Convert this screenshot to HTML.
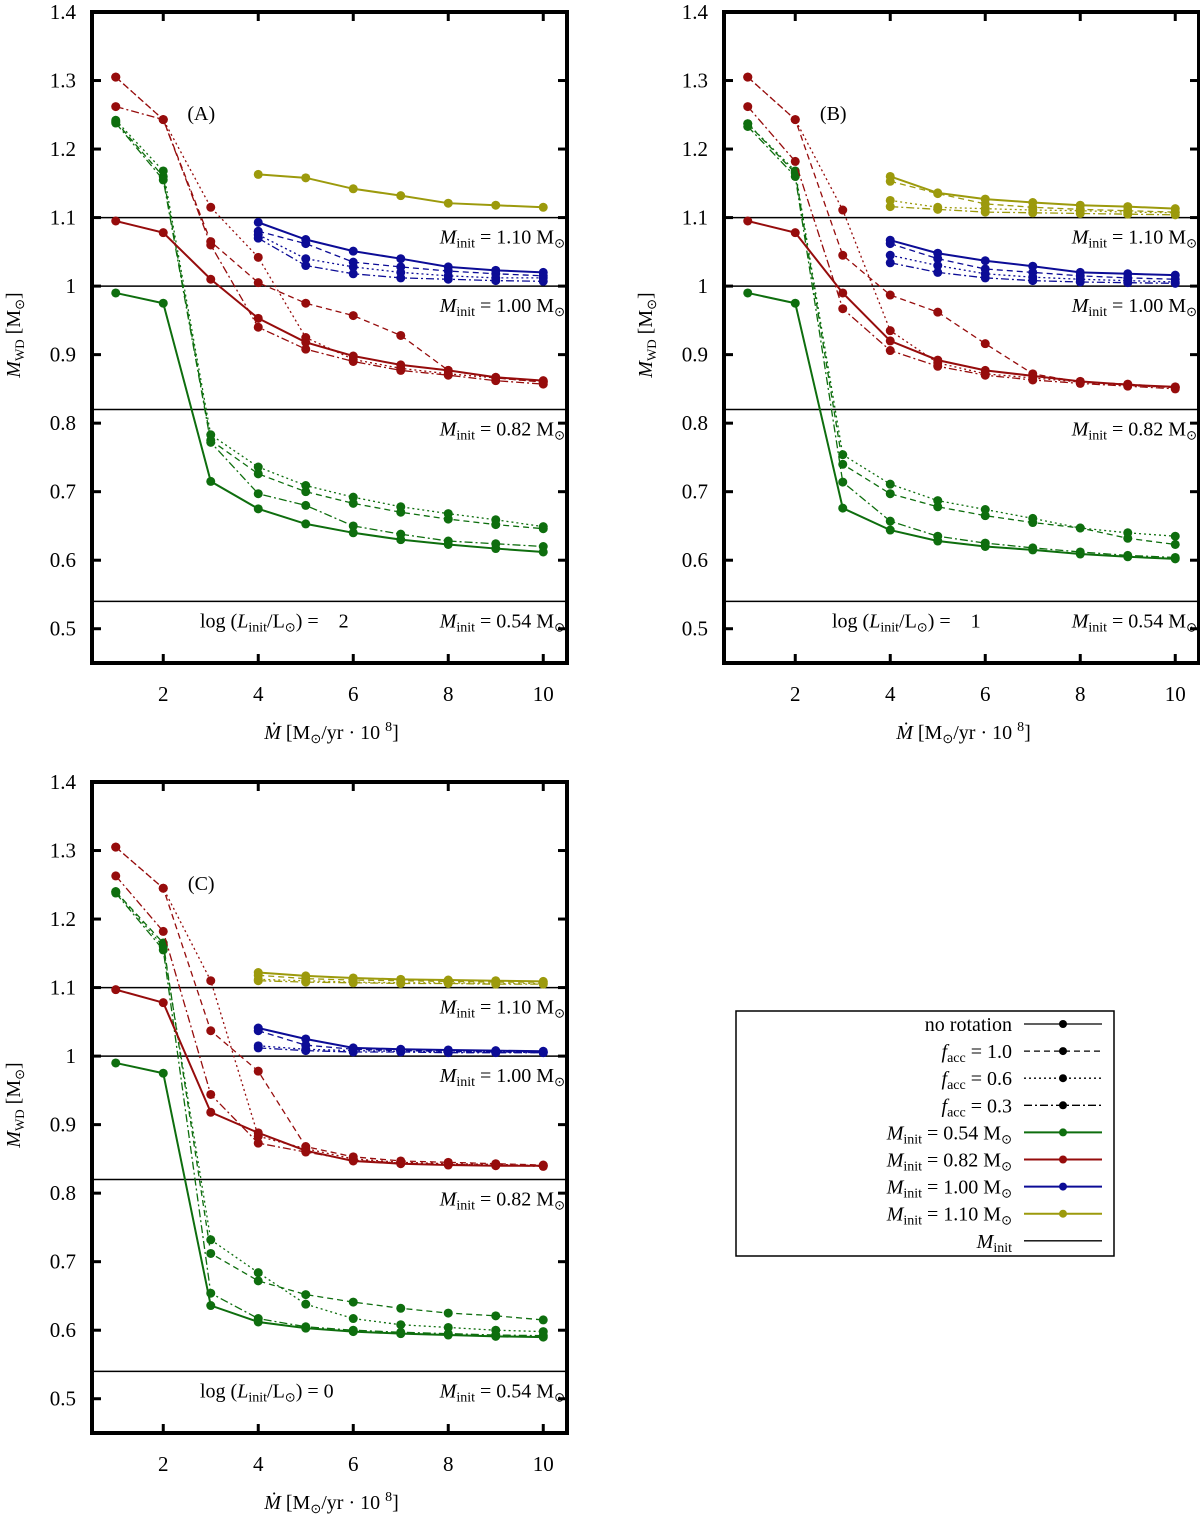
<!DOCTYPE html>
<html><head><meta charset="utf-8"><style>
body{margin:0;background:#fff;width:1200px;height:1514px;overflow:hidden}
svg{font-family:"Liberation Serif",serif;}
.pre{white-space:pre}
</style></head><body>
<svg id="chart" width="1200" height="1514" viewBox="0 0 1200 1514" xmlns="http://www.w3.org/2000/svg"></svg>
<script>
const xValues=[1,2,3,4,5,6,7,8,9,10];
const yTicks=[0.5,0.6,0.7,0.8,0.9,1,1.1,1.2,1.3,1.4];
const yTickLabels=["0.5","0.6","0.7","0.8","0.9","1","1.1","1.2","1.3","1.4"];
const xTicks=[2,4,6,8,10];
const refMasses=[1.10,1.00,0.82,0.54];
const refLabels=["1.10","1.00","0.82","0.54"];
const styles=["solid","dashed","dotted","dashdot"];
const massColors=["#0e6e0e","#960c0c","#0c0c96","#9c9a0c"];
// Panel A
const A_g=[[0.99,0.975,0.715,0.675,0.653,0.640,0.630,0.623,0.617,0.612],[1.24,1.16,0.775,0.726,0.700,0.683,0.670,0.660,0.652,0.646],[1.242,1.168,0.783,0.736,0.709,0.692,0.678,0.668,0.659,0.649],[1.238,1.155,0.772,0.697,0.680,0.650,0.638,0.628,0.624,0.620]];
const A_r=[[1.095,1.078,1.01,0.953,0.918,0.898,0.885,0.877,0.867,0.862],[1.305,1.243,1.065,1.005,0.975,0.957,0.928,0.877,0.866,0.86],[1.305,1.243,1.115,1.042,0.925,0.893,0.88,0.872,0.866,0.86],[1.262,1.243,1.06,0.94,0.908,0.89,0.877,0.87,0.862,0.857]];
const A_b=[[1.093,1.068,1.051,1.040,1.028,1.023,1.020],[1.08,1.062,1.035,1.028,1.022,1.018,1.015],[1.075,1.04,1.028,1.020,1.015,1.012,1.012],[1.07,1.03,1.018,1.012,1.010,1.008,1.007]];
const A_y=[[1.163,1.158,1.142,1.132,1.121,1.118,1.115]];
// Panel B
const B_g=[[0.99,0.975,0.676,0.644,0.628,0.620,0.615,0.609,0.605,0.602],[1.237,1.165,0.740,0.697,0.678,0.665,0.655,0.647,0.632,0.623],[1.237,1.168,0.754,0.711,0.687,0.674,0.661,0.647,0.640,0.635],[1.233,1.160,0.714,0.657,0.635,0.625,0.618,0.612,0.607,0.604]];
const B_r=[[1.095,1.078,0.99,0.92,0.892,0.877,0.869,0.861,0.856,0.853],[1.305,1.243,1.045,0.987,0.962,0.916,0.872,0.860,0.857,0.852],[1.305,1.243,1.111,0.935,0.888,0.872,0.866,0.860,0.855,0.852],[1.262,1.182,0.967,0.906,0.883,0.870,0.863,0.858,0.854,0.850]];
const B_b=[[1.067,1.048,1.037,1.029,1.020,1.018,1.016],[1.062,1.040,1.025,1.020,1.015,1.012,1.010],[1.045,1.030,1.018,1.013,1.010,1.008,1.006],[1.034,1.020,1.012,1.008,1.006,1.005,1.004]];
const B_y=[[1.16,1.136,1.127,1.122,1.118,1.116,1.113],[1.153,1.135,1.120,1.115,1.112,1.110,1.108],[1.125,1.115,1.113,1.111,1.110,1.108,1.107],[1.116,1.112,1.108,1.107,1.106,1.105,1.104]];
// Panel C
const C_g=[[0.99,0.975,0.636,0.612,0.603,0.598,0.595,0.593,0.591,0.590],[1.24,1.165,0.712,0.672,0.652,0.641,0.632,0.625,0.621,0.615],[1.24,1.160,0.732,0.684,0.638,0.617,0.608,0.604,0.600,0.598],[1.238,1.155,0.654,0.617,0.605,0.600,0.597,0.595,0.593,0.592]];
const C_r=[[1.097,1.078,0.918,0.888,0.862,0.847,0.843,0.841,0.840,0.840],[1.305,1.245,1.037,0.978,0.868,0.853,0.847,0.845,0.843,0.841],[1.305,1.245,1.110,0.883,0.865,0.850,0.845,0.843,0.842,0.840],[1.263,1.182,0.944,0.873,0.860,0.848,0.844,0.842,0.841,0.839]];
const C_b=[[1.041,1.025,1.012,1.010,1.009,1.008,1.007],[1.037,1.016,1.010,1.008,1.007,1.006,1.006],[1.015,1.010,1.008,1.007,1.006,1.006,1.005],[1.012,1.008,1.006,1.006,1.005,1.005,1.005]];
const C_y=[[1.122,1.117,1.114,1.112,1.111,1.110,1.109],[1.118,1.113,1.111,1.110,1.109,1.108,1.108],[1.112,1.110,1.108,1.107,1.107,1.106,1.106],[1.110,1.108,1.107,1.106,1.106,1.105,1.105]];

const panels=[
 {id:"a",ox:0,oy:0,tag:"(A)",lum:"2",data:[A_g,A_r,A_b,A_y]},
 {id:"b",ox:632,oy:0,tag:"(B)",lum:"1",data:[B_g,B_r,B_b,B_y]},
 {id:"c",ox:0,oy:770,tag:"(C)",lum:"0",data:[C_g,C_r,C_b,C_y]}
];
const dashes={solid:"",dashed:"6,4",dotted:"2,3",dashdot:"8,3,2,3"};
const NS="http://www.w3.org/2000/svg";
const svg=document.getElementById("chart");
function mk(tag,attrs,parent){const e=document.createElementNS(NS,tag);for(const k in attrs)e.setAttribute(k,attrs[k]);(parent||svg).appendChild(e);return e;}
function minitText(parent,x,y,anchor,val){
  const t=mk("text",{x:x,y:y,"text-anchor":anchor,"font-size":"20"},parent);
  t.innerHTML='<tspan font-style="italic">M</tspan><tspan font-size="14" dy="4">init</tspan><tspan dy="-4"> = '+val+' M</tspan><tspan font-size="13" dy="4">⊙</tspan>';
  return t;
}
panels.forEach(p=>{
  const L=92+p.ox,R=567+p.ox,T=12+p.oy,B=663+p.oy;
  const X=v=>L+(v-0.5)/10*(R-L);
  const Y=v=>T+(1.4-v)/0.95*(B-T);
  const g=mk("g",{});
  
  
  refMasses.forEach((m,i)=>{
    const l=mk("line",{x1:L,x2:R,y1:Y(m),y2:Y(m),stroke:"#000","stroke-width":1.5},g);
    
    
    const t=minitText(g,R-2,Y(m)+26,"end",refLabels[i]);
    
    
  });
  p.data.forEach((group,mi)=>{
    const xs=group[0].length===10?xValues:xValues.slice(3);
    group.forEach((ser,si)=>{
      const st=styles[si];
      const pts=ser.map((v,k)=>X(xs[k])+","+Y(v)).join(" ");
      const pl=mk("polyline",{points:pts,fill:"none",stroke:massColors[mi],"stroke-width":st==="solid"?2:1.3,"stroke-dasharray":dashes[st]},g);
      
      
      ser.forEach((v,k)=>{
        const c=mk("circle",{cx:X(xs[k]),cy:Y(v),r:4.5,fill:massColors[mi]},g);
        
        
      });
    });
  });
  const fr=mk("rect",{x:L,y:T,width:R-L,height:B-T,fill:"none",stroke:"#000","stroke-width":4},g);
  
  
  yTicks.forEach((v,i)=>{
    mk("line",{x1:L,x2:L+9,y1:Y(v),y2:Y(v),stroke:"#000","stroke-width":3},g);
    mk("line",{x1:R,x2:R-9,y1:Y(v),y2:Y(v),stroke:"#000","stroke-width":3},g);
    const t=mk("text",{x:L-16,y:Y(v)+7,"text-anchor":"end","font-size":"21"},g);
    t.textContent=yTickLabels[i];
    
    
  });
  xTicks.forEach(v=>{
    mk("line",{x1:X(v),x2:X(v),y1:B,y2:B-9,stroke:"#000","stroke-width":3},g);
    mk("line",{x1:X(v),x2:X(v),y1:T,y2:T+9,stroke:"#000","stroke-width":3},g);
    const t=mk("text",{x:X(v),y:B+38,"text-anchor":"middle","font-size":"21"},g);
    t.textContent=String(v);
    
    
  });
  const tag=mk("text",{x:X(2.8),y:T+108,"text-anchor":"middle","font-size":"20"},g);
  tag.textContent=p.tag;
  
  
  const lum=mk("text",{x:L+108,y:Y(0.54)+26,"font-size":"20","class":"pre"},g);
  lum.innerHTML='log (<tspan font-style="italic">L</tspan><tspan font-size="14" dy="4">init</tspan><tspan dy="-4">/L</tspan><tspan font-size="13" dy="4">⊙</tspan><tspan dy="-4">) = </tspan><tspan>'+(p.lum==="0"?"0":"   "+p.lum)+'</tspan>';
  
  
  const xt=mk("text",{x:(L+R)/2+2,y:B+76,"text-anchor":"middle","font-size":"20"},g);
  xt.innerHTML='<tspan font-style="italic">Ṁ</tspan> [M<tspan font-size="13" dy="4">⊙</tspan><tspan dy="-4">/yr · 10 </tspan><tspan font-size="14" dy="-8">8</tspan><tspan dy="8">]</tspan>';
  
  
  const yt=mk("text",{x:0,y:0,"text-anchor":"middle","font-size":"20",transform:"translate("+(p.ox+20)+","+(p.oy+335)+") rotate(-90)"},g);
  yt.innerHTML='<tspan font-style="italic">M</tspan><tspan font-size="13" dy="4">WD</tspan><tspan dy="-4"> [M</tspan><tspan font-size="13" dy="4">⊙</tspan><tspan dy="-4">]</tspan>';
  
  
});
const lg=mk("g",{});


mk("rect",{x:736,y:1011,width:378,height:245,fill:"#fff",stroke:"#000","stroke-width":1.5},lg);
const legendLabels=["no rotation","f1.0","f0.6","f0.3","m0.54","m0.82","m1.00","m1.10","minit"];
const legendColors=["#000","#000","#000","#000",massColors[0],massColors[1],massColors[2],massColors[3],"#000"];
const legendStyles=["solid","dashed","dotted","dashdot","solid","solid","solid","solid","solid"];
legendLabels.forEach((lab,i)=>{
  const y=1024+i*27.1;
  const ent=mk("g",{},lg);
  
  
  const t=mk("text",{x:1012,y:y+7,"text-anchor":"end","font-size":"20"},ent);
  if(lab==="no rotation")t.textContent="no rotation";
  else if(lab[0]==="f")t.innerHTML='<tspan font-style="italic">f</tspan><tspan font-size="14" dy="4">acc</tspan><tspan dy="-4"> = '+lab.slice(1)+'</tspan>';
  else if(lab==="minit")t.innerHTML='<tspan font-style="italic">M</tspan><tspan font-size="14" dy="4">init</tspan>';
  else t.innerHTML='<tspan font-style="italic">M</tspan><tspan font-size="14" dy="4">init</tspan><tspan dy="-4"> = '+lab.slice(1)+' M</tspan><tspan font-size="13" dy="4">⊙</tspan>';
  mk("line",{x1:1024,x2:1102,y1:y,y2:y,stroke:legendColors[i],"stroke-width":i<4||i===8?1.3:2,"stroke-dasharray":dashes[legendStyles[i]]},ent);
  if(i<8)mk("circle",{cx:1063,cy:y,r:4,fill:legendColors[i]},ent);
});
</script>
</body></html>
